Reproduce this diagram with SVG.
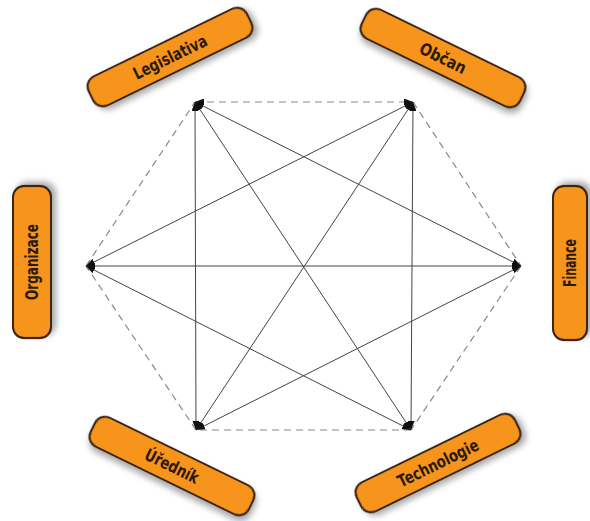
<svg xmlns="http://www.w3.org/2000/svg" width="590" height="521" viewBox="0 0 590 521">
<defs>
<marker id="ah" markerUnits="userSpaceOnUse" markerWidth="9" markerHeight="7" refX="9" refY="3.5" orient="auto-start-reverse"><path d="M0,0 L9,3.5 L0,7 z" fill="#111"/></marker>
<filter id="sh" x="-20%" y="-40%" width="150%" height="200%"><feDropShadow dx="3" dy="4" stdDeviation="3" flood-color="#000" flood-opacity="0.35"/></filter>
</defs>
<style>
.s{stroke:#444;stroke-width:1;fill:none;marker-start:url(#ah);marker-end:url(#ah)}
.d{stroke:#888;stroke-width:1.2;fill:none;stroke-dasharray:7,5}
.box{fill:#F7941D;stroke:#3b2512;stroke-width:2.2;filter:url(#sh)}
.t{font-family:"Liberation Sans Narrow","DejaVu Sans Condensed","Liberation Sans",sans-serif;font-weight:bold;font-size:17px;fill:#2b1a0c;text-anchor:middle;dominant-baseline:central}
</style>
<rect width="590" height="521" fill="#fff"/>
<g id="connectors">
<line class="d" x1="195" y1="102" x2="413" y2="102" style="marker-start:url(#ah);marker-end:url(#ah)"/>
<line class="d" x1="413" y1="102" x2="521" y2="266"/>
<line class="d" x1="521" y1="266" x2="411" y2="430"/>
<line class="d" x1="411" y1="430" x2="196" y2="430"/>
<line class="d" x1="196" y1="430" x2="86" y2="266"/>
<line class="d" x1="86" y1="266" x2="195" y2="102"/>
<line class="s" x1="195" y1="102" x2="196" y2="430"/>
<line class="s" x1="195" y1="102" x2="521" y2="266"/>
<line class="s" x1="195" y1="102" x2="411" y2="430"/>
<line class="s" x1="413" y1="102" x2="411" y2="430"/>
<line class="s" x1="413" y1="102" x2="86" y2="266"/>
<line class="s" x1="413" y1="102" x2="196" y2="430"/>
<line class="s" x1="521" y1="266" x2="86" y2="266"/>
<line class="s" x1="521" y1="266" x2="196" y2="430"/>
<line class="s" x1="411" y1="430" x2="86" y2="266"/>
</g>
<g id="legislativa" transform="translate(170,57) rotate(-26)">
<rect class="box" x="-88" y="-16" width="176" height="32" rx="11"/>
<text class="t" x="0" y="0" textLength="80" lengthAdjust="spacingAndGlyphs">Legislativa</text>
</g>
<g id="obcan" transform="translate(443,58) rotate(26)">
<rect class="box" x="-88" y="-16" width="176" height="32" rx="11"/>
<text class="t" x="0" y="0" textLength="50" lengthAdjust="spacingAndGlyphs">Občan</text>
</g>
<g id="finance" transform="translate(570,263) rotate(-90)">
<rect class="box" x="-77" y="-17" width="154" height="34" rx="11"/>
<text class="t" x="0" y="0" textLength="48" lengthAdjust="spacingAndGlyphs">Finance</text>
</g>
<g id="organizace" transform="translate(32,262) rotate(-90)">
<rect class="box" x="-76" y="-19" width="152" height="38" rx="11"/>
<text class="t" x="0" y="0" textLength="76" lengthAdjust="spacingAndGlyphs">Organizace</text>
</g>
<g id="urednik" transform="translate(172,466) rotate(26)">
<rect class="box" x="-88" y="-16" width="176" height="32" rx="11"/>
<text class="t" x="0" y="0" textLength="58" lengthAdjust="spacingAndGlyphs">Úředník</text>
</g>
<g id="technologie" transform="translate(438,463) rotate(-26)">
<rect class="box" x="-88" y="-16" width="176" height="32" rx="11"/>
<text class="t" x="0" y="0" textLength="88" lengthAdjust="spacingAndGlyphs">Technologie</text>
</g>
</svg>
